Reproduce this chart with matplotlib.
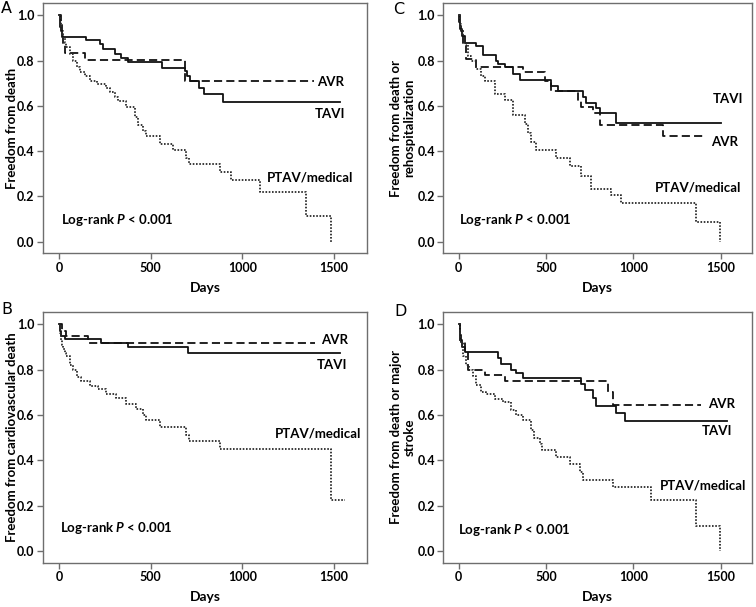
import matplotlib
matplotlib.use("Agg")
import matplotlib.pyplot as plt

plt.rcParams['font.family'] = ['Lato', 'DejaVu Sans']
plt.rcParams['mathtext.fontset'] = 'custom'
plt.rcParams['mathtext.rm'] = 'Lato:bold'
plt.rcParams['mathtext.it'] = 'Lato:bold:italic'
plt.rcParams['mathtext.bf'] = 'Lato:bold'

# ---------------- data (days, survival) ----------------
A_tavi_t = [0, 3, 7, 12, 18, 145, 222, 240, 304, 340, 376, 564, 685, 700, 713, 764, 789, 895, 1534]
A_tavi_s = [1.0, 0.975, 0.95, 0.93, 0.905, 0.892, 0.873, 0.851, 0.830, 0.81, 0.793, 0.767, 0.755, 0.73, 0.711, 0.68, 0.652, 0.619, 0.619]
A_avr_t = [0, 8, 15, 22, 30, 140, 685, 1390]
A_avr_s = [1.0, 0.97, 0.93, 0.87, 0.836, 0.802, 0.711, 0.711]
A_ptav_t = [0, 5, 9, 15, 22, 30, 40, 58, 76, 95, 113, 140, 167, 204, 258, 276, 304, 322, 367, 413, 431, 458, 476, 549, 622, 694, 709, 876, 940, 1094, 1349, 1485]
A_ptav_s = [1.0, 0.97, 0.95, 0.92, 0.90, 0.88, 0.86, 0.83, 0.80, 0.77, 0.75, 0.73, 0.71, 0.695, 0.68, 0.66, 0.64, 0.62, 0.593, 0.55, 0.516, 0.49, 0.468, 0.432, 0.403, 0.37, 0.342, 0.307, 0.273, 0.218, 0.111, 0.0]

B_tavi_t = [0, 4, 9, 31, 231, 376, 703, 1534]
B_tavi_s = [1.0, 0.97, 0.948, 0.934, 0.919, 0.90, 0.871, 0.871]
B_avr_t = [0, 13, 40, 155, 1395]
B_avr_s = [1.0, 0.97, 0.95, 0.915, 0.915]
B_ptav_t = [0, 5, 9, 15, 22, 30, 40, 58, 76, 95, 122, 167, 213, 258, 313, 367, 422, 458, 476, 549, 694, 709, 876, 1485, 1558]
B_ptav_s = [1.0, 0.96, 0.93, 0.91, 0.89, 0.875, 0.86, 0.82, 0.80, 0.768, 0.749, 0.727, 0.715, 0.693, 0.675, 0.65, 0.626, 0.601, 0.576, 0.547, 0.51, 0.486, 0.45, 0.225, 0.225]

C_tavi_t = [0, 4, 10, 20, 34, 101, 139, 216, 225, 263, 311, 349, 530, 569, 712, 731, 788, 807, 899, 1500]
C_tavi_s = [1.0, 0.97, 0.94, 0.91, 0.88, 0.866, 0.826, 0.80, 0.785, 0.77, 0.742, 0.715, 0.689, 0.668, 0.639, 0.612, 0.59, 0.568, 0.524, 0.524]
C_avr_t = [0, 8, 15, 25, 44, 101, 368, 492, 530, 683, 702, 769, 811, 1170, 1399]
C_avr_s = [1.0, 0.96, 0.93, 0.87, 0.807, 0.774, 0.748, 0.708, 0.664, 0.62, 0.594, 0.568, 0.516, 0.465, 0.465]
C_ptav_t = [0, 5, 15, 25, 34, 53, 72, 101, 130, 149, 206, 263, 311, 378, 397, 416, 445, 559, 635, 702, 759, 874, 931, 1360, 1494]
C_ptav_s = [1.0, 0.96, 0.93, 0.90, 0.88, 0.82, 0.80, 0.764, 0.73, 0.708, 0.652, 0.627, 0.558, 0.52, 0.48, 0.44, 0.403, 0.369, 0.336, 0.29, 0.233, 0.204, 0.17, 0.086, 0.0]

D_tavi_t = [0, 5, 10, 21, 34, 225, 244, 301, 330, 368, 702, 721, 769, 788, 902, 950, 1536]
D_tavi_s = [1.0, 0.96, 0.93, 0.90, 0.879, 0.852, 0.823, 0.80, 0.786, 0.764, 0.734, 0.709, 0.675, 0.641, 0.609, 0.572, 0.572]
D_avr_t = [0, 8, 15, 34, 53, 149, 263, 855, 883, 1390]
D_avr_s = [1.0, 0.96, 0.92, 0.88, 0.80, 0.774, 0.749, 0.70, 0.645, 0.645]
D_ptav_t = [0, 5, 10, 25, 44, 59, 82, 101, 130, 158, 206, 254, 301, 330, 368, 416, 429, 464, 477, 559, 635, 696, 712, 883, 1103, 1360, 1494]
D_ptav_s = [1.0, 0.95, 0.92, 0.86, 0.82, 0.80, 0.77, 0.73, 0.70, 0.69, 0.671, 0.656, 0.623, 0.601, 0.579, 0.535, 0.498, 0.473, 0.443, 0.414, 0.384, 0.35, 0.313, 0.281, 0.225, 0.111, 0.0]

ylabels = {
    'A': 'Freedom from death',
    'B': 'Freedom from cardiovascular death',
    'C': 'Freedom from death or\nrehospitalization',
    'D': 'Freedom from death or major\nstroke',
}
# label positions (days, survival)
labels_pos = {
    'A': {'AVR': (1405, 0.705), 'TAVI': (1395, 0.562), 'PTAV/medical': (1131, 0.282), 'lr': (9, 0.096)},
    'B': {'AVR': (1431, 0.929), 'TAVI': (1404, 0.82), 'PTAV/medical': (1177, 0.52), 'lr': (4, 0.099)},
    'C': {'AVR': (1447, 0.442), 'TAVI': (1456, 0.631), 'PTAV/medical': (1122, 0.239), 'lr': (2, 0.096)},
    'D': {'AVR': (1428, 0.65), 'TAVI': (1390, 0.527), 'PTAV/medical': (1151, 0.288), 'lr': (-3, 0.092)},
}
x_ticks = [0, 500, 1000, 1500]
y_ticks = [0.0, 0.2, 0.4, 0.6, 0.8, 1.0]

data = {
    'A': (A_tavi_t, A_tavi_s, A_avr_t, A_avr_s, A_ptav_t, A_ptav_s),
    'B': (B_tavi_t, B_tavi_s, B_avr_t, B_avr_s, B_ptav_t, B_ptav_s),
    'C': (C_tavi_t, C_tavi_s, C_avr_t, C_avr_s, C_ptav_t, C_ptav_s),
    'D': (D_tavi_t, D_tavi_s, D_avr_t, D_avr_s, D_ptav_t, D_ptav_s),
}

W, H = 756, 607
fig = plt.figure(figsize=(W / 100, H / 100), dpi=100)

def px_rect(x0, y0, x1, y1):
    return [x0 / W, 1 - y1 / H, (x1 - x0) / W, (y1 - y0) / H]

rects = {
    'A': px_rect(43, 3, 367, 253.3),
    'C': px_rect(443.3, 3, 752, 253.3),
    'B': px_rect(43, 311.7, 367, 562.7),
    'D': px_rect(443.3, 311.7, 752, 562.7),
}
letter_pos = {'A': (1, 1), 'B': (1, 302), 'C': (393, 2), 'D': (394, 304)}
ylab_x = {'A': 12, 'B': 12, 'C': 402.5, 'D': 402.5}

spine_col = '#6e6e6e'
line_col = '#111111'
fs_tick = 9
fs_lab = 9.5
fs_ann = 9.5

for key in ['A', 'B', 'C', 'D']:
    ax = fig.add_axes(rects[key])
    tt, ts, at, as_, pt, ps = data[key]
    ax.step(tt, ts, where='post', color=line_col, lw=1.3, ls='-')
    ax.step(at, as_, where='post', color=line_col, lw=1.3, ls=(0, (4.5, 2.3)))
    ax.step(pt, ps, where='post', color='#2a2a2a', lw=1.3, ls=(0, (0.9, 0.9)))
    ax.set_xlim(-88, 1680)
    ax.set_ylim(-0.052, 1.055)
    ax.set_xticks(x_ticks)
    ax.set_xticklabels([str(v) for v in x_ticks], fontsize=fs_tick, fontweight='bold')
    ax.set_yticks(y_ticks)
    ax.set_yticklabels(['%.1f' % v for v in y_ticks], fontsize=fs_tick, fontweight='bold')
    for sp in ax.spines.values():
        sp.set_color(spine_col)
        sp.set_linewidth(1.0)
    ax.tick_params(direction='out', length=4, width=1, color=spine_col, pad=2)
    ax.set_xlabel('Days', fontsize=fs_lab + 0.5, fontweight='bold')
    ax.xaxis.set_label_coords(0.5, -0.137)
    ax.xaxis.label.set_va('center')
    ax.set_ylabel(ylabels[key], fontsize=fs_lab, fontweight='bold', linespacing=1.15)
    x0 = rects[key][0] * W
    wpx = rects[key][2] * W
    ax.yaxis.set_label_coords((ylab_x[key] - x0) / wpx, 0.5)
    ax.yaxis.label.set_va('center')
    lp = labels_pos[key]
    for name in ['AVR', 'TAVI', 'PTAV/medical']:
        x, y = lp[name]
        ax.text(x, y, name, fontsize=fs_ann, fontweight='bold', ha='left', va='center')
    x, y = lp['lr']
    ax.text(x, y, r'Log-rank $\mathit{P}$ < 0.001', fontsize=fs_ann, fontweight='bold', ha='left', va='center')
    lx, ly = letter_pos[key]
    fig.text(lx / W, 1 - ly / H, key, fontsize=11.5, family='DejaVu Sans', ha='left', va='top')

fig.savefig('out.png', dpi=100)
